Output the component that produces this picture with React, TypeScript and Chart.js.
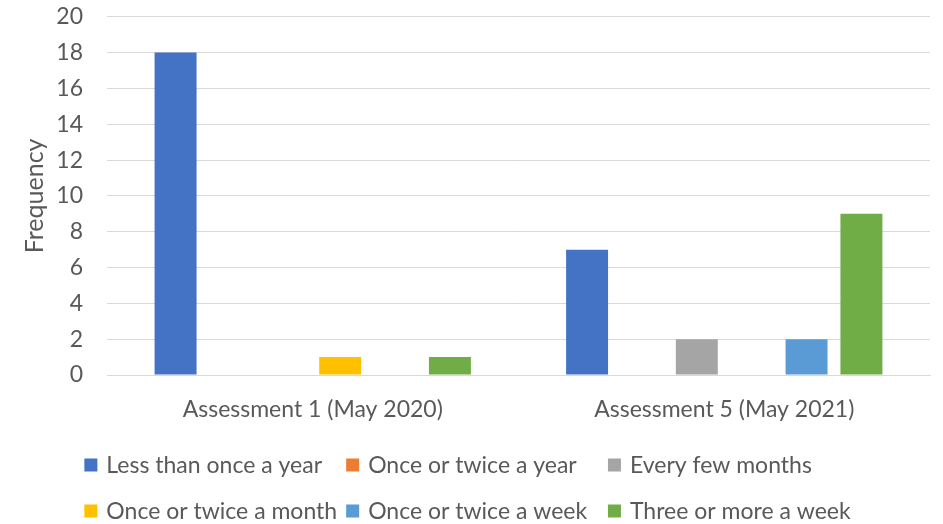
import React, { useEffect, useRef } from "react";
import { Chart, registerables } from "chart.js";

Chart.register(...registerables);

const categories = ["Assessment 1 (May 2020)", "Assessment 5 (May 2021)"];
const seriesNames = [
  "Less than once a year",
  "Once or twice a year",
  "Every few months",
  "Once or twice a month",
  "Once or twice a week",
  "Three or more a week",
];
const lessThanOnceAYear = [18, 7];
const onceOrTwiceAYear = [0, 0];
const everyFewMonths = [0, 2];
const onceOrTwiceAMonth = [1, 0];
const onceOrTwiceAWeek = [0, 2];
const threeOrMoreAWeek = [1, 9];
const yTicks = [0, 2, 4, 6, 8, 10, 12, 14, 16, 18, 20];

const seriesValues = [
  lessThanOnceAYear,
  onceOrTwiceAYear,
  everyFewMonths,
  onceOrTwiceAMonth,
  onceOrTwiceAWeek,
  threeOrMoreAWeek,
];
const seriesColors = ["#4472C4", "#ED7D31", "#A5A5A5", "#FFC000", "#5B9BD5", "#70AD47"];

const FONT = "Lato, 'Open Sans', sans-serif";
const TEXT = "#595959";
const FS = 23;

const gridLegend = {
  id: "gridLegend",
  afterDraw(chart: any) {
    const ctx = chart.ctx;
    ctx.save();
    ctx.font = `${FS}px ${FONT}`;
    ctx.textBaseline = "middle";
    ctx.textAlign = "left";
    const box = 13;
    const gapText = 9;
    const cols = 3;
    const items = chart.data.datasets.map((d: any) => ({ label: d.label, color: d.backgroundColor }));
    const contentW = items.map((it: any) => box + gapText + ctx.measureText(it.label).width);
    const maxContent = Math.max(...contentW);
    const colW = maxContent + 9;
    let lastColMax = 0;
    items.forEach((_: any, i: number) => {
      if (i % cols === cols - 1) lastColMax = Math.max(lastColMax, contentW[i]);
    });
    const totalW = (cols - 1) * colW + lastColMax;
    const startX = (chart.width - totalW) / 2 - 4;
    const rowY = [465, 511];
    items.forEach((it: any, i: number) => {
      const c = i % cols;
      const r = Math.floor(i / cols);
      const x = startX + c * colW;
      const y = rowY[r];
      ctx.fillStyle = it.color;
      ctx.fillRect(x, y - box / 2, box, box);
      ctx.fillStyle = TEXT;
      ctx.fillText(it.label, x + box + gapText, y + 1);
    });
    ctx.restore();
  },
};

export default function App() {
  const ref = useRef<HTMLCanvasElement>(null);
  useEffect(() => {
    if (!ref.current) return;
    const chart = new Chart(ref.current, {
      type: "bar",
      data: {
        labels: categories,
        datasets: seriesNames.map((name, i) => ({
          label: name,
          data: seriesValues[i],
          backgroundColor: seriesColors[i],
          borderWidth: 0,
          categoryPercentage: 0.8,
          barPercentage: 0.765,
        })),
      },
      options: {
        responsive: false,
        animation: false,
        layout: { padding: { left: 0, right: 13, top: 0, bottom: 99 } },
        plugins: {
          legend: { display: false },
          tooltip: { enabled: false },
        },
        scales: {
          x: {
            grid: { display: false },
            border: { display: true, color: "#D9D9D9", width: 1 },
            ticks: { color: TEXT, font: { family: FONT, size: FS }, padding: 13, maxRotation: 0 },
            afterFit: (s: any) => {
              s.height = 50;
            },
          },
          y: {
            min: 0,
            max: 20,
            afterBuildTicks: (s: any) => {
              s.ticks = yTicks.map((v) => ({ value: v }));
            },
            grid: {
              color: "#D9D9D9",
              lineWidth: 1,
              drawTicks: true,
              tickLength: 21,
              tickColor: "rgba(0,0,0,0)",
            },
            border: { display: false },
            ticks: { color: TEXT, font: { family: FONT, size: FS }, padding: 3 },
            title: {
              display: true,
              text: "Frequency",
              color: TEXT,
              font: { family: FONT, size: 25 },
              padding: { top: 20, bottom: 0 },
            },
            afterFit: (s: any) => {
              s.width = 107;
            },
          },
        },
      },
      plugins: [gridLegend],
    });
    return () => chart.destroy();
  }, []);
  return (
    <div style={{ position: "fixed", left: 0, top: 0, width: 943, height: 524, background: "#fff" }}>
      <canvas ref={ref} width={943} height={524} />
    </div>
  );
}
